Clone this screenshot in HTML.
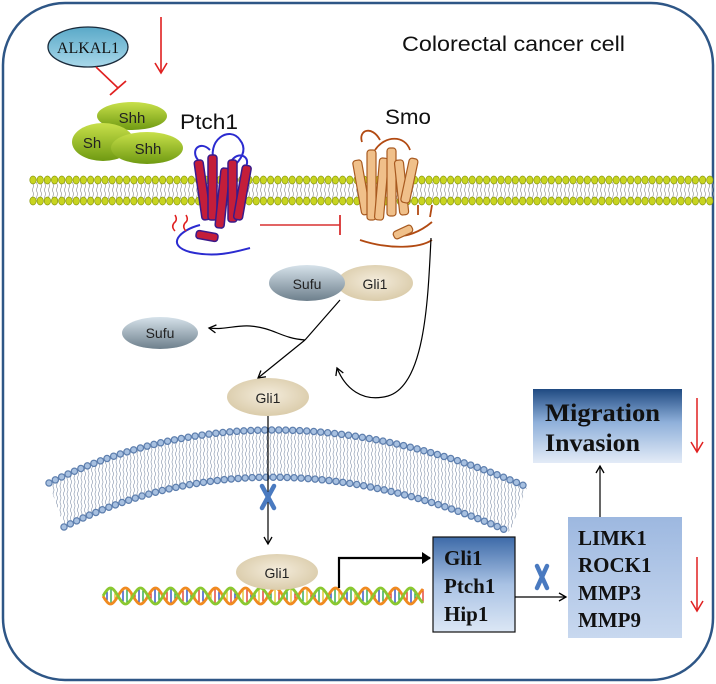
<!DOCTYPE html>
<html><head><meta charset="utf-8"><style>
html,body{margin:0;padding:0;background:#fff;}
svg{display:block;}
.sans{font-family:"Liberation Sans","DejaVu Sans",sans-serif;}
.serif{font-family:"Liberation Serif",serif;}
</style></head><body>
<svg id="s" width="716" height="684" viewBox="0 0 716 684" xmlns="http://www.w3.org/2000/svg">
<defs>
<linearGradient id="gShh" x1="0" y1="0" x2="0" y2="1"><stop offset="0" stop-color="#c8e04a"/><stop offset="1" stop-color="#6f9a12"/></linearGradient>
<linearGradient id="gSufu" x1="0" y1="0" x2="0" y2="1"><stop offset="0" stop-color="#d6e2ea"/><stop offset="1" stop-color="#6d7f8c"/></linearGradient>
<linearGradient id="gAlk" x1="0" y1="0" x2="0" y2="1"><stop offset="0" stop-color="#5aa9c8"/><stop offset="1" stop-color="#a9d8ea"/></linearGradient>
<linearGradient id="gBox1" x1="0" y1="0" x2="0" y2="1"><stop offset="0" stop-color="#3d6aa8"/><stop offset="0.5" stop-color="#a9c2e4"/><stop offset="1" stop-color="#dce7f5"/></linearGradient>
<linearGradient id="gBox2" x1="0" y1="0" x2="0" y2="1"><stop offset="0" stop-color="#9db8e0"/><stop offset="1" stop-color="#c8d8ef"/></linearGradient>
<linearGradient id="gMig" x1="0" y1="0" x2="0" y2="1"><stop offset="0" stop-color="#1f4a82"/><stop offset="0.45" stop-color="#8fb0da"/><stop offset="1" stop-color="#e3ebf7"/></linearGradient>
<radialGradient id="gGli" cx="0.5" cy="0.45" r="0.6"><stop offset="0" stop-color="#f4ecdc"/><stop offset="1" stop-color="#d8c9a6"/></radialGradient>
<pattern id="tails" width="4" height="8" patternUnits="userSpaceOnUse"><path d="M1,0 Q2,2 1,4 Q0,6 1,8" stroke="#9a9a9a" stroke-width="0.7" fill="none"/></pattern>
<pattern id="ntails" width="3.5" height="8" patternUnits="userSpaceOnUse"><path d="M1,0 Q2,2 1,4 Q0,6 1,8" stroke="#7f8fa8" stroke-width="0.6" fill="none"/></pattern>
<marker id="ah" markerWidth="10" markerHeight="10" refX="8" refY="5" orient="auto" markerUnits="userSpaceOnUse"><path d="M1,1 L8,5 L1,9" fill="none" stroke="#000" stroke-width="1.3"/></marker>
<marker id="ahb" markerWidth="12" markerHeight="12" refX="9" refY="6" orient="auto" markerUnits="userSpaceOnUse"><path d="M1,0 L10,6 L1,12 Z" fill="#000"/></marker>
</defs>

<rect x="3" y="3" width="710" height="677" rx="62" ry="62" fill="#fff" stroke="#2e5686" stroke-width="2.5"/>

<text x="402" y="51" class="sans" font-size="21" fill="#111" textLength="223" lengthAdjust="spacingAndGlyphs">Colorectal cancer cell</text>

<!-- ALKAL1 -->
<ellipse cx="88" cy="47" rx="40" ry="20" fill="url(#gAlk)" stroke="#1a2a3a" stroke-width="1.3"/>
<text x="88" y="53" text-anchor="middle" class="serif" font-size="16" fill="#111">ALKAL1</text>
<line x1="96" y1="67" x2="118" y2="88" stroke="#e02020" stroke-width="1.6"/>
<line x1="110" y1="95" x2="126" y2="81" stroke="#e02020" stroke-width="1.8"/>
<line x1="161" y1="17" x2="161" y2="72" stroke="#e02020" stroke-width="1.6"/>
<path d="M155,63 L161,73 L167,63" fill="none" stroke="#e02020" stroke-width="1.6"/>

<!-- Shh -->
<ellipse cx="132" cy="116" rx="35" ry="14" fill="url(#gShh)"/>
<ellipse cx="103" cy="142" rx="31" ry="19" fill="url(#gShh)"/>
<ellipse cx="147" cy="148" rx="36" ry="16" fill="url(#gShh)"/>
<text x="132" y="123" text-anchor="middle" class="sans" font-size="15" fill="#222">Shh</text>
<text x="92" y="148" text-anchor="middle" class="sans" font-size="15" fill="#222">Sh</text>
<text x="148" y="154" text-anchor="middle" class="sans" font-size="15" fill="#222">Shh</text>
<text x="180" y="129" class="sans" font-size="21" fill="#111" textLength="58" lengthAdjust="spacingAndGlyphs">Ptch1</text>
<text x="385" y="124" class="sans" font-size="21" fill="#111" textLength="46" lengthAdjust="spacingAndGlyphs">Smo</text>

<!-- plasma membrane -->
<rect x="30" y="182" width="684" height="17" fill="url(#tails)"/>
<g id="pm"></g>

<!-- Ptch1 protein -->
<g stroke="#2b2bd0" stroke-width="2" fill="none">
<path d="M215,165 C205,140 230,125 240,140 C248,150 240,160 235,165"/>
<path d="M200,225 C180,230 165,245 190,252 C215,258 235,252 250,248"/>
<path d="M198,160 C190,150 200,140 210,150"/>
<path d="M232,160 C240,150 252,158 245,168"/>
</g>
<g fill="#c41e3a" stroke="#3a1a8a" stroke-width="1.5">
<rect x="198" y="160" width="9" height="60" rx="3" transform="rotate(-8 202 190)"/>
<rect x="208" y="155" width="9" height="65" rx="3"/>
<rect x="218" y="168" width="9" height="60" rx="3" transform="rotate(6 222 198)"/>
<rect x="228" y="160" width="9" height="62" rx="3"/>
<rect x="238" y="165" width="9" height="55" rx="3" transform="rotate(10 242 192)"/>
<rect x="196" y="232" width="22" height="8" rx="3" transform="rotate(10 207 236)"/>
</g>
<path d="M175,215 q3,5 -1,8 q-3,4 1,8" stroke="#e02020" stroke-width="1.5" fill="none"/>
<path d="M186,215 q3,5 -1,8 q-3,4 1,8" stroke="#e02020" stroke-width="1.5" fill="none"/>

<!-- inhibition Ptch1 -| Smo -->
<line x1="260" y1="225" x2="340" y2="225" stroke="#d83030" stroke-width="1.6"/>
<line x1="340" y1="215" x2="340" y2="235" stroke="#d83030" stroke-width="1.8"/>

<!-- Smo -->
<g stroke="#b24a12" stroke-width="1.8" fill="none">
<path d="M362,142 C358,130 372,125 380,140"/>
<path d="M375,150 C385,135 405,135 410,150"/>
<path d="M360,240 C390,250 420,248 432,240"/>
<path d="M395,235 C405,238 420,232 432,222"/>
<path d="M418,205 l0,10 M432,205 l-2,12"/>
</g>
<g fill="#f0c08a" stroke="#a85a20" stroke-width="1.2">
<rect x="357" y="160" width="9" height="55" rx="3" transform="rotate(-10 361 187)"/>
<rect x="367" y="150" width="9" height="70" rx="3"/>
<rect x="377" y="158" width="9" height="62" rx="3" transform="rotate(5 381 189)"/>
<rect x="387" y="148" width="9" height="68" rx="3"/>
<rect x="397" y="160" width="9" height="55" rx="3" transform="rotate(-6 401 187)"/>
<rect x="405" y="158" width="9" height="45" rx="3" transform="rotate(12 409 180)"/>
<rect x="393" y="228" width="20" height="8" rx="3" transform="rotate(-25 403 232)"/>
</g>

<!-- Sufu/Gli1 complex -->
<ellipse cx="375" cy="283" rx="38" ry="18" fill="url(#gGli)"/>
<ellipse cx="307" cy="283" rx="38" ry="18" fill="url(#gSufu)"/>
<text x="307" y="289" text-anchor="middle" class="sans" font-size="14" fill="#222">Sufu</text>
<text x="375" y="289" text-anchor="middle" class="sans" font-size="14" fill="#222">Gli1</text>
<ellipse cx="160" cy="333" rx="38" ry="16" fill="url(#gSufu)"/>
<text x="160" y="338" text-anchor="middle" class="sans" font-size="14" fill="#222">Sufu</text>

<g stroke="#000" stroke-width="1.2" fill="none">
<path d="M340,300 L305,340"/>
<path d="M305,340 L258,378" marker-end="url(#ah)"/>
<path d="M305,340 C280,338 275,328 250,326 C235,325 225,330 209,328" marker-end="url(#ah)"/>
<path d="M431,238 C428,300 425,385 388,396 C362,403 345,388 337,368" marker-end="url(#ah)"/>
</g>

<!-- Gli1 cytoplasm -->
<ellipse cx="268" cy="397" rx="41" ry="19" fill="url(#gGli)"/>
<text x="268" y="403" text-anchor="middle" class="sans" font-size="14" fill="#222">Gli1</text>

<!-- nuclear membrane -->
<path d="M49,483 Q268,375 527,487 L510,532 Q268,425 64,527 Z" fill="url(#ntails)"/>
<path d="M49,483 Q268,375 527,487" fill="none" stroke="#5e7fae" stroke-width="7.5" stroke-dasharray="0 7" stroke-linecap="round"/>
<path d="M49,483 Q268,375 527,487" fill="none" stroke="#a7c0e0" stroke-width="5" stroke-dasharray="0 7" stroke-linecap="round"/>
<path d="M64,527 Q268,425 510,532" fill="none" stroke="#5e7fae" stroke-width="7.5" stroke-dasharray="0 7" stroke-linecap="round"/>
<path d="M64,527 Q268,425 510,532" fill="none" stroke="#a7c0e0" stroke-width="5" stroke-dasharray="0 7" stroke-linecap="round"/>

<line x1="268" y1="416" x2="268" y2="544" stroke="#000" stroke-width="1.2" marker-end="url(#ah)"/>
<g transform="translate(268,497)"><path d="M-6,-11 L6,11 M6,-11 L-6,11" stroke="#4a7ac0" stroke-width="4.5" stroke-linecap="round"/></g>

<!-- DNA -->
<g id="dna"></g>
<ellipse cx="277" cy="572" rx="41" ry="18" fill="url(#gGli)"/>
<text x="277" y="578" text-anchor="middle" class="sans" font-size="14" fill="#222">Gli1</text>

<path d="M339,588 L339,558 L430,558" fill="none" stroke="#000" stroke-width="2.2" marker-end="url(#ahb)"/>

<!-- target gene box -->
<rect x="433" y="537" width="82" height="95" fill="url(#gBox1)" stroke="#111" stroke-width="1.2"/>
<g class="serif" font-size="21" font-weight="bold" fill="#111">
<text x="444" y="565">Gli1</text>
<text x="444" y="593">Ptch1</text>
<text x="444" y="621">Hip1</text>
</g>
<line x1="515" y1="597" x2="566" y2="597" stroke="#000" stroke-width="1.2" marker-end="url(#ah)"/>
<g transform="translate(542,577)"><path d="M-5,-11 L5,11 M5,-11 L-5,11" stroke="#4a7ac0" stroke-width="4.5" stroke-linecap="round"/></g>

<rect x="568" y="517" width="114" height="121" fill="url(#gBox2)"/>
<g class="serif" font-size="21" font-weight="bold" fill="#111">
<text x="578" y="545">LIMK1</text>
<text x="578" y="572">ROCK1</text>
<text x="578" y="600">MMP3</text>
<text x="578" y="627">MMP9</text>
</g>
<line x1="600" y1="517" x2="600" y2="466" stroke="#000" stroke-width="1.2" marker-end="url(#ah)"/>

<rect x="533" y="389" width="149" height="74" fill="url(#gMig)"/>
<g class="serif" font-size="25" font-weight="bold" fill="#111">
<text x="545" y="421" textLength="115" lengthAdjust="spacingAndGlyphs">Migration</text>
<text x="545" y="451" textLength="95" lengthAdjust="spacingAndGlyphs">Invasion</text>
</g>

<line x1="697" y1="398" x2="697" y2="451" stroke="#e02020" stroke-width="1.5"/>
<path d="M691,442 L697,452 L703,442" fill="none" stroke="#e02020" stroke-width="1.5"/>
<line x1="697" y1="557" x2="697" y2="610" stroke="#e02020" stroke-width="1.5"/>
<path d="M691,601 L697,611 L703,601" fill="none" stroke="#e02020" stroke-width="1.5"/>
</svg>
<script>
(function(){
var pm=document.getElementById("pm");
var h="";
for(var x=33;x<712;x+=7.2){
 h+='<ellipse cx="'+x.toFixed(1)+'" cy="180" rx="3.2" ry="4" fill="#c8d420" stroke="#8a9a10" stroke-width="0.7"/>';
 h+='<ellipse cx="'+x.toFixed(1)+'" cy="201" rx="3.2" ry="4" fill="#c8d420" stroke="#8a9a10" stroke-width="0.7"/>';
}
pm.innerHTML=h;
var d=document.getElementById("dna");
var x0=103,x1=423,yc=596,A=8,P=30;
var p1="",p2="",r="";
var cols=["#e03020","#2040c0","#20a040","#e0c020"];
for(var x=x0,i=0;x<=x1;x+=1,i++){
 var t=(x-x0)/P*2*Math.PI;
 var ya=yc+A*Math.sin(t), yb=yc-A*Math.sin(t);
 p1+=(i?"L":"M")+x+","+ya.toFixed(1);
 p2+=(i?"L":"M")+x+","+yb.toFixed(1);
 if(i%4==0){r+='<line x1="'+x+'" y1="'+ya.toFixed(1)+'" x2="'+x+'" y2="'+yb.toFixed(1)+'" stroke="'+cols[(i/4)%4]+'" stroke-width="1.3"/>';}
}
d.innerHTML=r+'<path d="'+p1+'" fill="none" stroke="#f08a20" stroke-width="2.8"/><path d="'+p2+'" fill="none" stroke="#8ac830" stroke-width="2.8"/>';
})();
</script>
</body></html>
